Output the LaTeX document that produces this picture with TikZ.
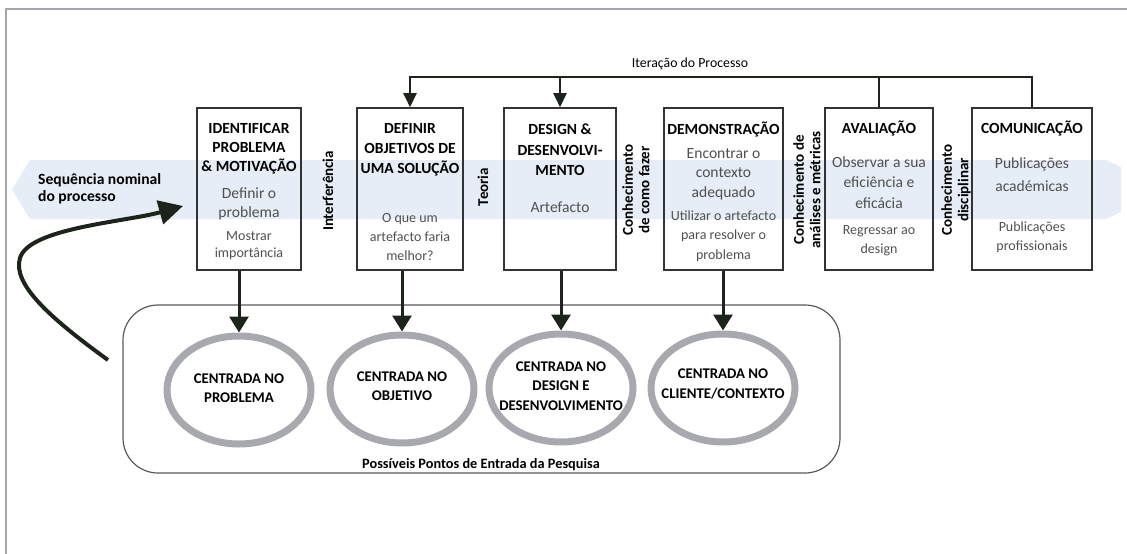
\documentclass[tikz,border=0pt]{standalone}
\usepackage{fontspec}
\setmainfont{Carlito}
\usetikzlibrary{arrows.meta,shapes.geometric}

\definecolor{darkline}{RGB}{28,36,28}
\definecolor{bandblue}{RGB}{231,237,246}
\definecolor{ringgray}{RGB}{168,169,174}
\definecolor{subgray}{RGB}{80,80,80}
\definecolor{framegray}{RGB}{165,165,172}

\tikzset{
  stagebox/.style={draw=black!80, line width=1.6pt, minimum height=162pt},
  headtxt/.style={font=\bfseries\fontsize{15.5}{19}\selectfont, align=center, inner sep=0pt},
  subtxt/.style={font=\fontsize{15.6}{19.5}\selectfont, text=subgray, align=center, inner sep=0pt},
  notetxt/.style={font=\fontsize{14}{19}\selectfont, text=subgray, align=center, inner sep=0pt},
  sidetxt/.style={font=\bfseries\fontsize{15}{16.5}\selectfont, rotate=90, align=center, inner sep=0pt},
  ringshape/.style={ellipse, draw=ringgray, line width=7pt, minimum width=144pt, minimum height=108pt},
  ringtxt/.style={font=\bfseries\fontsize{14.8}{19.5}\selectfont, align=center, inner sep=0pt},
  iterline/.style={draw=darkline, line width=2.5pt},
  iterarrow/.style={iterline, -{Triangle[length=14pt,width=13pt]}},
  droparrow/.style={draw=darkline, line width=3pt, -{Triangle[length=16pt,width=19pt]}}
}

\begin{document}
\begin{tikzpicture}[x=1pt,y=-1pt]
    \useasboundingbox (0,0) rectangle (1127,554);

    % Draw the frame
    \draw[framegray, line width=2pt] (6,554) -- (6,9) -- (1127,9);

    % Draw the nominal sequence band
    \fill[bandblue] (12,189.5) -- (30,160) -- (1106,160) -- (1121,167)
        -- (1121,212) -- (1106,219) -- (30,219) -- cycle;
    \node[font=\bfseries\fontsize{15.6}{17}\selectfont, align=left, inner sep=0pt, anchor=west]
        (seq) at (38,188.5) {Sequência nominal\\do processo};

    % Draw the stages
    \node[stagebox, minimum width=104pt] (b1) at (249,189) {};
    \node[stagebox, minimum width=106pt] (b2) at (410,189) {};
    \node[stagebox, minimum width=112pt] (b3) at (560,189) {};
    \node[stagebox, minimum width=119pt] (b4) at (723.5,189) {};
    \node[stagebox, minimum width=108pt] (b5) at (879,189) {};
    \node[stagebox, minimum width=120pt] (b6) at (1032,189) {};

    % Label the stages
    \node[headtxt] (b1h) at (249,149) {IDENTIFICAR\\PROBLEMA\\\& MOTIVAÇÃO};
    \node[subtxt] (b1s) at (249,204) {Definir o\\problema};
    \node[notetxt, font=\fontsize{14}{17}\selectfont] (b1n) at (249,245.5) {Mostrar\\importância};

    \node[headtxt, font=\bfseries\fontsize{15.5}{20}\selectfont] (b2h) at (410,150) {DEFINIR\\OBJETIVOS DE\\UMA SOLUÇÃO};
    \node[notetxt] (b2n) at (410,237) {O que um\\artefacto faria\\melhor?};

    \node[headtxt, font=\bfseries\fontsize{15.5}{20.5}\selectfont] (b3h) at (560,150) {DESIGN \&\\DESENVOLVI-\\MENTO};
    \node[subtxt] (b3s) at (560,207) {Artefacto};

    \node[headtxt] (b4h) at (723.5,129) {DEMONSTRAÇÃO};
    \node[subtxt] (b4s) at (723.5,174) {Encontrar o\\contexto\\adequado};
    \node[notetxt, font=\fontsize{14}{19.5}\selectfont] (b4n) at (723.5,236) {Utilizar o artefacto\\para resolver o\\problema};

    \node[headtxt] (b5h) at (879,128) {AVALIAÇÃO};
    \node[subtxt, font=\fontsize{15.6}{20.5}\selectfont] (b5s) at (879,182.5) {Observar a sua\\eficiência e\\eficácia};
    \node[notetxt] (b5n) at (879,240.5) {Regressar ao\\design};

    \node[headtxt] (b6h) at (1032,128) {COMUNICAÇÃO};
    \node[subtxt, font=\fontsize{15.6}{23}\selectfont] (b6s) at (1032,174.5) {Publicações\\académicas};
    \node[notetxt] (b6n) at (1032,237.5) {Publicações\\profissionais};

    % Draw the knowledge labels between stages
    \node[sidetxt] (s1) at (328,191) {Interferência};
    \node[sidetxt] (s2) at (483,187) {Teoria};
    \node[sidetxt] (s3) at (636,190) {Conhecimento\\de como fazer};
    \node[sidetxt] (s4) at (807,190) {Conhecimento de\\análises e métricas};
    \node[sidetxt] (s5) at (956,190) {Conhecimento\\disciplinar};

    % Draw the process iteration
    \coordinate (iterL) at (410,77);
    \node[font=\fontsize{13.8}{15}\selectfont, inner sep=0pt] (iterlbl) at (690,64) {Iteração do Processo};
    \draw[iterarrow] (b6.north) |- (iterL) -- (b2.north);
    \draw[iterline] (b5.north) -- (b5.north |- iterL);
    \draw[iterarrow] (b3.north |- iterL) -- (b3.north);

    % Draw the entry points
    \node[draw=black!65, line width=1.2pt, rounded corners=35pt, minimum width=717pt,
        minimum height=168pt] (entry) at (481.5,389) {};
    \node[font=\bfseries\fontsize{14.3}{15}\selectfont, inner sep=0pt] (entrylbl) at (481,465)
        {Possíveis Pontos de Entrada da Pesquisa};

    \node[ringshape] (e1) at (239,390) {};
    \node[ringshape] (e2) at (402,389) {};
    \node[ringshape] (e3) at (561,388) {};
    \node[ringshape] (e4) at (723,388) {};
    \node[ringtxt] (e1t) at (239,388) {CENTRADA NO\\PROBLEMA};
    \node[ringtxt] (e2t) at (402,386) {CENTRADA NO\\OBJETIVO};
    \node[ringtxt] (e3t) at (561,386) {CENTRADA NO\\DESIGN E\\DESENVOLVIMENTO};
    \node[ringtxt] (e4t) at (723,384) {CENTRADA NO\\CLIENTE/CONTEXTO};

    % Draw the arrows from stages to entry points
    \foreach \b/\e in {b1/e1,b2/e2,b3/e3,b4/e4}
        \draw[droparrow] (\b.south -| \e) -- (\e.north);

    % Draw the nominal loop arrow
    \coordinate (loopstart) at (108,360);
    \coordinate (looptip) at (183,206);
    \draw[darkline, line width=4pt, -{Triangle[length=24pt,width=24pt]}] (loopstart)
        .. controls (50,318) and (12,284) .. (20,258)
        .. controls (29,228) and (125,222) .. (looptip);

\end{tikzpicture}
\end{document}
